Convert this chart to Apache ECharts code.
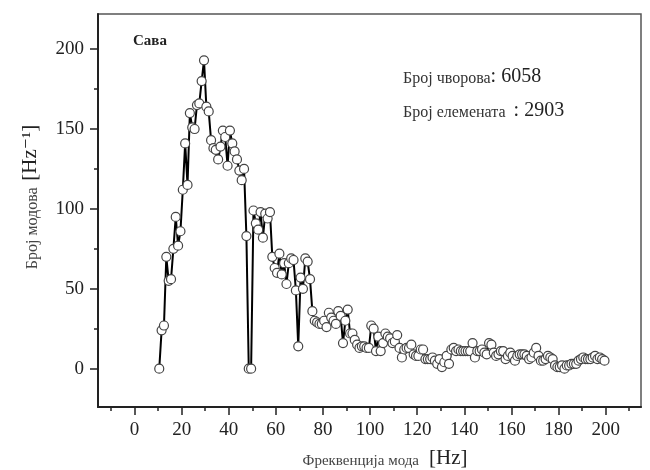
<!DOCTYPE html>
<html>
<head>
<meta charset="utf-8">
<script src="https://cdn.jsdelivr.net/npm/echarts@6/dist/echarts.min.js"></script>
<style>
  html, body { margin: 0; padding: 0; background: #fff; }
  #chart { width: 650px; height: 470px; }
</style>
</head>
<body>
<div id="chart"></div>
<script>
// bin centres [Hz]
const freq = [
  10.5, 11.5, 12.5, 13.5, 14.5, 15.5, 16.5, 17.5, 18.5, 19.5,
  20.5, 21.5, 22.5, 23.5, 24.5, 25.5, 26.5, 27.5, 28.5, 29.5,
  30.5, 31.5, 32.5, 33.5, 34.5, 35.5, 36.5, 37.5, 38.5, 39.5,
  40.5, 41.5, 42.5, 43.5, 44.5, 45.5, 46.5, 47.5, 48.5, 49.5,
  50.5, 51.5, 52.5, 53.5, 54.5, 55.5, 56.5, 57.5, 58.5, 59.5,
  60.5, 61.5, 62.5, 63.5, 64.5, 65.5, 66.5, 67.5, 68.5, 69.5,
  70.5, 71.5, 72.5, 73.5, 74.5, 75.5, 76.5, 77.5, 78.5, 79.5,
  80.5, 81.5, 82.5, 83.5, 84.5, 85.5, 86.5, 87.5, 88.5, 89.5,
  90.5, 91.5, 92.5, 93.5, 94.5, 95.5, 96.5, 97.5, 98.5, 99.5,
  100.5, 101.5, 102.5, 103.5, 104.5, 105.5, 106.5, 107.5, 108.5, 109.5,
  110.5, 111.5, 112.5, 113.5, 114.5, 115.5, 116.5, 117.5, 118.5, 119.5,
  120.5, 121.5, 122.5, 123.5, 124.5, 125.5, 126.5, 127.5, 128.5, 129.5,
  130.5, 131.5, 132.5, 133.5, 134.5, 135.5, 136.5, 137.5, 138.5, 139.5,
  140.5, 141.5, 142.5, 143.5, 144.5, 145.5, 146.5, 147.5, 148.5, 149.5,
  150.5, 151.5, 152.5, 153.5, 154.5, 155.5, 156.5, 157.5, 158.5, 159.5,
  160.5, 161.5, 162.5, 163.5, 164.5, 165.5, 166.5, 167.5, 168.5, 169.5,
  170.5, 171.5, 172.5, 173.5, 174.5, 175.5, 176.5, 177.5, 178.5, 179.5,
  180.5, 181.5, 182.5, 183.5, 184.5, 185.5, 186.5, 187.5, 188.5, 189.5,
  190.5, 191.5, 192.5, 193.5, 194.5, 195.5, 196.5, 197.5, 198.5, 199.5
]
// broj modova [Hz^-1]
const modes = [
  0, 24, 27, 70, 55, 56, 75, 95, 77, 86,
  112, 141, 115, 160, 151, 150, 165, 166, 180, 193,
  164, 161, 143, 138, 137, 131, 139, 149, 145, 127,
  149, 141, 136, 131, 124, 118, 125, 83, 0, 0,
  99, 91, 87, 98, 82, 97, 94, 98, 70, 63,
  60, 72, 59, 66, 53, 66, 69, 68, 49, 14,
  57, 50, 69, 67, 56, 36, 30, 29, 28, 28,
  30, 26, 35, 32, 30, 28, 36, 33, 16, 30,
  37, 22, 22, 18, 15, 13, 14, 14, 13, 13,
  27, 25, 11, 20, 11, 16, 22, 20, 19, 16,
  17, 21, 13, 7, 12, 13, 13, 15, 9, 8,
  8, 12, 12, 6, 6, 6, 7, 5, 3, 6,
  1, 4, 8, 3, 12, 13, 11, 12, 11, 11,
  11, 11, 11, 16, 7, 11, 11, 12, 10, 9,
  16, 15, 10, 8, 9, 11, 11, 6, 8, 10,
  8, 5, 8, 9, 9, 9, 8, 6, 7, 10,
  13, 8, 5, 5, 6, 8, 7, 6, 2, 1,
  1, 2, 0, 2, 2, 3, 3, 3, 5, 6,
  7, 6, 6, 6, 7, 8, 6, 7, 6, 5
]
const xTicks = [0, 20, 40, 60, 80, 100, 120, 140, 160, 180, 200]
const xMinor = [-10, 10, 30, 50, 70, 90, 110, 130, 150, 170, 190, 210]
const yTicks = [0, 50, 100, 150, 200]
const yMinor = [25, 75, 125, 175]

const serif = '"Liberation Serif", "DejaVu Serif", serif'
const xMin = -15.5, xMax = 215
const yMin = -24, yMax = 222

let points = freq.map((f, i) => [f, modes[i]])

let axisBase = {
  type: 'value',
  splitLine: { show: false },
}

let option = {
  animation: false,
  backgroundColor: '#fff',
  grid: {
    left: 98, top: 14, right: 9, bottom: 63,
    show: true,
    borderColor: '#555',
    borderWidth: 1.5,
  },
  xAxis: [
    {
      ...axisBase,
      min: xMin, max: xMax,
      axisLine: { onZero: false, lineStyle: { color: '#222', width: 2 } },
      axisTick: { show: true, inside: false, length: 8, customValues: xTicks, lineStyle: { color: '#222', width: 1.5 } },
      axisLabel: { customValues: xTicks, margin: 14, color: '#222', fontFamily: serif, fontSize: 19 },
    },
    {
      ...axisBase,
      min: xMin, max: xMax,
      position: 'bottom',
      axisLine: { show: false, onZero: false },
      axisTick: { show: true, length: 4, customValues: xMinor, lineStyle: { color: '#222', width: 1.5 } },
      axisLabel: { show: false },
    },
  ],
  yAxis: [
    {
      ...axisBase,
      min: yMin, max: yMax,
      axisLine: { show: true, onZero: false, lineStyle: { color: '#222', width: 2 } },
      axisTick: { show: true, length: 8, customValues: yTicks, lineStyle: { color: '#222', width: 1.5 } },
      axisLabel: { customValues: yTicks, margin: 14, color: '#222', fontFamily: serif, fontSize: 19 },
    },
    {
      ...axisBase,
      min: yMin, max: yMax,
      position: 'left',
      axisLine: { show: false, onZero: false },
      axisTick: { show: true, length: 4, customValues: yMinor, lineStyle: { color: '#222', width: 1.5 } },
      axisLabel: { show: false },
    },
  ],
  series: [{
    type: 'line',
    data: points,
    xAxisIndex: 0,
    yAxisIndex: 0,
    symbol: 'circle',
    symbolSize: 9,
    showAllSymbol: true,
    lineStyle: { color: '#000', width: 2 },
    itemStyle: { color: '#fff', borderColor: '#444', borderWidth: 1.2 },
  }],
  graphic: [
    {
      type: 'text', left: 133, top: 34,
      style: { text: 'Сава', fontFamily: serif, fontWeight: 'bold', fontSize: 15, fill: '#222' },
    },
    {
      type: 'text', left: 403, top: 67,
      style: {
        text: '{a|Број чворова}{b|: 6058}',
        rich: {
          a: { fontFamily: serif, fontSize: 16, fill: '#333', verticalAlign: 'bottom' },
          b: { fontFamily: serif, fontSize: 20, fill: '#222', verticalAlign: 'bottom' },
        },
      },
    },
    {
      type: 'text', left: 403, top: 101,
      style: {
        text: '{a|Број елемената  }{b|: 2903}',
        rich: {
          a: { fontFamily: serif, fontSize: 16, fill: '#333', verticalAlign: 'bottom' },
          b: { fontFamily: serif, fontSize: 20, fill: '#222', verticalAlign: 'bottom' },
        },
      },
    },
    {
      type: 'text', x: 385, y: 458,
      style: {
        text: '{a|Фреквенција мода}   {b|[Hz]}',
        align: 'center', verticalAlign: 'middle',
        rich: {
          a: { fontFamily: serif, fontSize: 15, fill: '#444', verticalAlign: 'bottom' },
          b: { fontFamily: serif, fontSize: 21, fill: '#222', verticalAlign: 'bottom' },
        },
      },
    },
    {
      type: 'text', x: 30, y: 197, rotation: Math.PI / 2,
      style: {
        text: '{a|Број модова}  {b|[Hz⁻¹]}',
        align: 'center', verticalAlign: 'middle',
        rich: {
          a: { fontFamily: serif, fontSize: 16, fill: '#444', verticalAlign: 'bottom' },
          b: { fontFamily: serif, fontSize: 21, fill: '#222', verticalAlign: 'bottom' },
        },
      },
    },
  ],
}

let myChart = echarts.init(document.getElementById('chart'), null, { renderer: 'canvas' })
myChart.setOption(option)
</script>
</body>
</html>
